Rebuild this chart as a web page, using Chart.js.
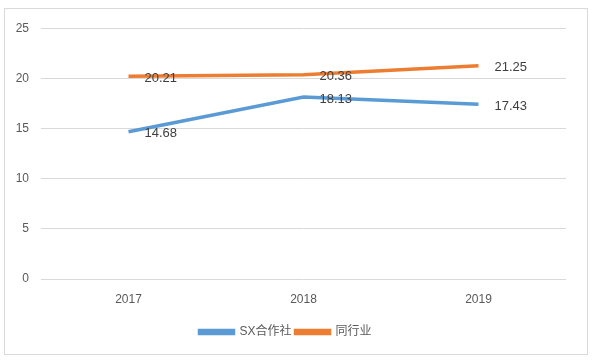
<!DOCTYPE html>
<html><head><meta charset="utf-8">
<script src="https://cdn.jsdelivr.net/npm/chart.js@4"></script>
<style>
html,body{margin:0;padding:0;background:#fff;}
#box{position:absolute;left:4px;top:8px;width:582px;height:345px;border:1px solid #D9D9D9;}
canvas{display:block;}
</style></head>
<body>
<div id="box"><canvas id="c" width="582" height="345"></canvas></div>
<script>
const categories = ['2017','2018','2019'];
const sxValues = [14.68, 18.13, 17.43];
const industryValues = [20.21, 20.36, 21.25];
const seriesNames = ['SX合作社','同行业'];
const yTicks = [0,5,10,15,20,25];

const FONT = '"Liberation Sans", "Noto Sans CJK SC", sans-serif';
const labelPlugin = {
  id:'dataLabels',
  afterDatasetsDraw(chart){
    const ctx = chart.ctx;
    ctx.save();
    ctx.font = '13px ' + FONT;
    ctx.fillStyle = '#404040';
    ctx.textAlign = 'left';
    ctx.textBaseline = 'middle';
    chart.data.datasets.forEach((ds,i)=>{
      const meta = chart.getDatasetMeta(i);
      meta.data.forEach((pt,j)=>{
        ctx.fillText(ds.data[j].toFixed(2), pt.x + 16, pt.y + 2);
      });
    });
    ctx.restore();
  }
};

new Chart(document.getElementById('c'), {
  type:'line',
  data:{
    labels:categories,
    datasets:[
      {label:seriesNames[0], data:sxValues, borderColor:'#5B9BD5', backgroundColor:'#5B9BD5', borderWidth:3.5, pointRadius:0, tension:0},
      {label:seriesNames[1], data:industryValues, borderColor:'#ED7D31', backgroundColor:'#ED7D31', borderWidth:3.5, pointRadius:0, tension:0}
    ]
  },
  options:{
    responsive:false,
    animation:false,
    devicePixelRatio:1,
    layout:{padding:{left:0,right:21,top:8.6,bottom:6}},
    plugins:{
      legend:{position:'bottom', labels:{font:{size:12,family:FONT}, color:'#595959', boxWidth:34, boxHeight:3, padding:4}},
      tooltip:{enabled:false}
    },
    scales:{
      x:{offset:true, grid:{display:false}, border:{display:false},
         ticks:{font:{size:12,family:FONT}, color:'#595959', padding:5},
         afterFit(s){ s.height = 43; }},
      y:{min:0,max:25, afterBuildTicks(s){s.ticks = yTicks.map(v=>({value:v}));},
         afterFit(s){ s.width = 36; },
         grid:{color:'#D9D9D9', drawTicks:false, lineWidth:1}, border:{display:false},
         ticks:{font:{size:12,family:FONT}, color:'#595959', padding:12}}
    }
  },
  plugins:[labelPlugin]
});
</script>
</body></html>
